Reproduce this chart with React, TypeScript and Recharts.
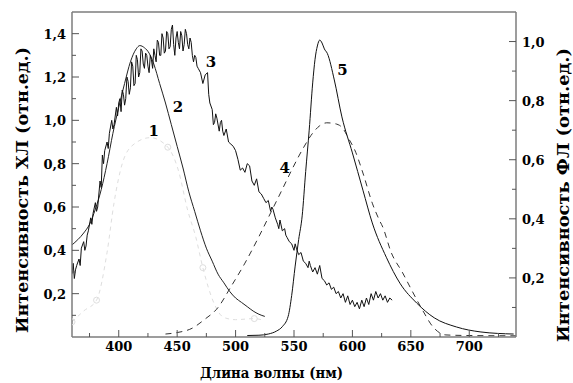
import React from 'react';
import { LineChart, Line, XAxis, YAxis, ReferenceLine, ReferenceDot, Label } from 'recharts';

// Curve 1: CL reference (light dotted with circles), left axis
const curve1: [number, number][] = [
  [360, 0.07], [370, 0.12], [381, 0.17], [390, 0.39], [396, 0.62], [403, 0.8], [413, 0.89],
  [427, 0.92], [442, 0.876], [451, 0.77], [459, 0.585], [466, 0.46], [472, 0.32], [482, 0.15],
  [490, 0.09], [500, 0.08], [516, 0.085], [522, 0.08],
];
const curve1Markers = [361, 381, 442, 472, 516];

// Curve 2: smooth CL fit, left axis
const curve2: [number, number][] = [
  [360, 0.425], [370, 0.48], [375, 0.52], [380, 0.59], [385, 0.68], [390, 0.8], [395, 0.94],
  [400, 1.06], [405, 1.17], [410, 1.27], [415, 1.33], [418, 1.345], [422, 1.335], [426, 1.31],
  [430, 1.26], [435, 1.17], [440, 1.08], [445, 0.98], [450, 0.88], [455, 0.78], [460, 0.67],
  [465, 0.58], [470, 0.49], [475, 0.41], [480, 0.35], [485, 0.29], [490, 0.25], [495, 0.21],
  [500, 0.18], [505, 0.16], [510, 0.14], [515, 0.12], [520, 0.105], [525, 0.095],
];

// Curve 3: measured (noisy) CL spectrum, left axis
const curve3: [number, number][] = [
  [360, 0.29], [361, 0.34], [362, 0.27], [363, 0.31], [364, 0.33], [366, 0.36], [367, 0.33],
  [368, 0.41], [370, 0.44], [371, 0.4], [372, 0.42], [373, 0.47], [374, 0.49], [376, 0.55],
  [377, 0.52], [378, 0.57], [380, 0.62], [381, 0.58], [382, 0.6], [384, 0.72], [385, 0.69],
  [386, 0.84], [387, 0.8], [388, 0.86], [390, 0.9], [391, 0.87], [392, 0.94], [394, 1.0],
  [395, 0.96], [396, 0.98], [398, 1.06], [399, 1.02], [400, 1.08], [401, 1.1], [402, 1.04],
  [403, 1.14], [404, 1.12], [405, 1.07], [406, 1.1], [407, 1.2], [408, 1.18], [409, 1.12],
  [410, 1.15], [411, 1.27], [412, 1.25], [413, 1.16], [414, 1.17], [415, 1.3], [416, 1.28],
  [417, 1.2], [418, 1.22], [419, 1.33], [420, 1.32], [421, 1.26], [422, 1.24], [423, 1.31],
  [424, 1.3], [425, 1.25], [426, 1.22], [427, 1.3], [428, 1.28], [429, 1.24], [430, 1.33],
  [431, 1.3], [432, 1.27], [433, 1.37], [434, 1.36], [435, 1.3], [436, 1.3], [437, 1.4],
  [438, 1.38], [439, 1.31], [440, 1.32], [441, 1.41], [442, 1.4], [443, 1.33], [444, 1.34],
  [445, 1.42], [446, 1.44], [447, 1.35], [448, 1.3], [449, 1.38], [450, 1.41], [451, 1.36],
  [452, 1.33], [453, 1.41], [454, 1.39], [455, 1.32], [456, 1.35], [457, 1.42], [458, 1.4],
  [459, 1.35], [460, 1.33], [461, 1.38], [462, 1.36], [463, 1.3], [464, 1.27], [465, 1.3],
  [466, 1.29], [467, 1.25], [468, 1.24], [470, 1.22], [472, 1.17], [474, 1.21], [476, 1.22],
  [477, 1.12], [478, 1.08], [480, 1.05], [481, 0.98], [482, 0.99], [483, 1.03], [484, 1.01],
  [486, 0.95], [487, 0.99], [488, 1.0], [489, 0.95], [490, 0.93], [492, 0.96], [494, 0.9],
  [496, 0.89], [498, 0.88], [500, 0.86], [502, 0.82], [504, 0.77], [506, 0.78], [508, 0.76],
  [510, 0.8], [512, 0.79], [514, 0.72], [516, 0.7], [518, 0.73], [520, 0.67], [522, 0.66],
  [524, 0.64], [526, 0.62], [528, 0.63], [530, 0.58], [531, 0.6], [532, 0.59], [534, 0.55],
  [536, 0.52], [537, 0.5], [538, 0.54], [540, 0.49], [542, 0.5], [543, 0.47], [544, 0.46],
  [546, 0.44], [548, 0.43], [550, 0.4], [551, 0.43], [552, 0.41], [554, 0.38], [556, 0.39],
  [558, 0.35], [560, 0.34], [562, 0.32], [563, 0.35], [564, 0.33], [566, 0.3], [568, 0.32],
  [570, 0.29], [572, 0.33], [574, 0.27], [576, 0.26], [578, 0.24], [580, 0.25], [582, 0.22],
  [584, 0.23], [586, 0.2], [588, 0.21], [590, 0.18], [592, 0.2], [594, 0.16], [596, 0.19],
  [598, 0.15], [600, 0.17], [602, 0.14], [604, 0.16], [606, 0.13], [608, 0.17], [610, 0.14],
  [612, 0.18], [614, 0.15], [616, 0.2], [618, 0.17], [620, 0.21], [622, 0.18], [624, 0.2],
  [626, 0.17], [628, 0.19], [630, 0.16], [632, 0.18], [634, 0.17],
];

// Curve 4: PL (dashed), right axis
const curve4: [number, number][] = [
  [440, 0.01], [450, 0.015], [463, 0.03], [473, 0.058], [485, 0.1], [496, 0.17], [508, 0.25],
  [520, 0.34], [530, 0.42], [540, 0.5], [548, 0.565], [558, 0.64], [566, 0.69], [572, 0.715],
  [578, 0.725], [585, 0.722], [591, 0.71], [597, 0.67], [602, 0.633], [609, 0.555], [617, 0.453],
  [623, 0.396], [626, 0.372], [633, 0.288], [643, 0.217], [652, 0.149], [660, 0.091],
  [669, 0.034], [680, 0.007], [700, 0.005], [740, 0.004],
];

// Curve 5: PL (solid), right axis
const curve5: [number, number][] = [
  [510, 0.005], [520, 0.006], [528, 0.01], [535, 0.02], [540, 0.035], [545, 0.07], [548, 0.14],
  [551, 0.24], [554, 0.33], [557, 0.41], [560, 0.56], [563, 0.7], [566, 0.86], [568, 0.94],
  [570, 0.985], [572, 1.005], [574, 0.995], [576, 0.975], [578.5, 0.96], [584.5, 0.87],
  [591, 0.745], [600, 0.623], [609, 0.497], [617, 0.386], [629, 0.27], [641, 0.18],
  [655, 0.115], [670, 0.065], [689, 0.034], [710, 0.017], [738, 0.01],
];

const xTicks = [375, 400, 425, 450, 475, 500, 525, 550, 575, 600, 625, 650, 675, 700, 725];
const leftTicks = [0.1, 0.2, 0.3, 0.4, 0.5, 0.6, 0.7, 0.8, 0.9, 1.0, 1.1, 1.2, 1.3, 1.4];
const rightTicks = [0.1, 0.2, 0.3, 0.4, 0.5, 0.6, 0.7, 0.8, 0.9, 1.0];

const curveLabels = [
  { text: '1', x: 430, y: 0.95, axis: 'left' },
  { text: '2', x: 450.7, y: 1.06, axis: 'left' },
  { text: '3', x: 479, y: 1.27, axis: 'left' },
  { text: '4', x: 542, y: 0.572, axis: 'right' },
  { text: '5', x: 591.4, y: 0.904, axis: 'right' },
];

const xTitle = 'Длина волны (нм)';
const leftTitle = 'Интенсивность ХЛ (отн.ед.)';
const rightTitle = 'Интенсивность ФЛ (отн.ед.)';

const toRows = (arr: [number, number][]) => arr.map(([x, y]) => ({ x, y }));

const FONT = '"DejaVu Serif", "Liberation Serif", serif';
const txt: React.CSSProperties = { fontFamily: FONT, fontWeight: 700 };
const FRAME = '#7d7d7d';
const TICK = '#555';

const isMajor = (v: number) => Math.round(v * 10) % 2 === 0;
const fmt = (v: number) => v.toFixed(1).replace('.', ',');

const XTick = (props: any) => {
  const { x, y, payload } = props;
  const v = payload.value;
  const major = v % 50 === 0;
  return (
    <g>
      <line x1={x} x2={x} y1={y} y2={y - (major ? 7 : 4)} stroke={TICK} strokeWidth={1} />
      {major && (
        <text x={x} y={y + 14} textAnchor="middle" style={{ ...txt, fontSize: 13 }} fill="#000">
          {v}
        </text>
      )}
    </g>
  );
};

const LeftTick = (props: any) => {
  const { x, y, payload } = props;
  const v = payload.value;
  const major = isMajor(v);
  return (
    <g>
      <line x1={x} x2={x + (major ? 7 : 4)} y1={y} y2={y} stroke={TICK} strokeWidth={1} />
      {major && (
        <text x={x - 6} y={y + 5} textAnchor="end" style={{ ...txt, fontSize: 13 }} fill="#000">
          {fmt(v)}
        </text>
      )}
    </g>
  );
};

const RightTick = (props: any) => {
  const { x, y, payload } = props;
  const v = payload.value;
  const major = isMajor(v);
  return (
    <g>
      <line x1={x} x2={x - (major ? 7 : 4)} y1={y} y2={y} stroke={TICK} strokeWidth={1} />
      {major && (
        <text x={x + 6} y={y + 5} textAnchor="start" style={{ ...txt, fontSize: 13 }} fill="#000">
          {fmt(v)}
        </text>
      )}
    </g>
  );
};

const Curve1Dot = (props: any) => {
  const { cx, cy, payload, index } = props;
  if (!curve1Markers.some((m) => Math.abs(m - payload.x) < 1.5)) return <g key={`d${index}`} />;
  return <circle key={`d${index}`} cx={cx} cy={cy} r={3} fill="none" stroke="#dedede" strokeWidth={1} />;
};

const NumLabel = (props: any) => {
  const { viewBox, value } = props;
  const cx = viewBox.x + (viewBox.width || 0) / 2;
  const cy = viewBox.y + (viewBox.height || 0) / 2;
  return (
    <text x={cx} y={cy} textAnchor="middle" dominantBaseline="central" style={{ ...txt, fontSize: 15 }} fill="#000">
      {value}
    </text>
  );
};

export default function App() {
  return (
    <div style={{ position: 'absolute', left: 0, top: 0, background: '#fff' }}>
      <LineChart width={573} height={383} margin={{ top: 12, right: 0, bottom: 0, left: 0 }}>
        <XAxis
          xAxisId="x"
          dataKey="x"
          type="number"
          domain={[360, 740]}
          allowDataOverflow
          ticks={xTicks}
          interval={0}
          height={46}
          tickSize={0}
          tickMargin={0}
          tickLine={false}
          tick={XTick}
          axisLine={{ stroke: FRAME, strokeWidth: 1.5 }}
        >
          <Label
            content={(p: any) => {
              const vb = p.viewBox;
              return (
                <text
                  x={vb.x + vb.width / 2 - 22.5}
                  y={378}
                  textAnchor="middle"
                  style={{ ...txt, fontSize: 15 }}
                  textLength={143}
                  lengthAdjust="spacingAndGlyphs"
                  fill="#000"
                >
                  {xTitle}
                </text>
              );
            }}
          />
        </XAxis>
        <YAxis
          yAxisId="left"
          type="number"
          domain={[0, 1.5]}
          allowDataOverflow
          ticks={leftTicks}
          interval={0}
          width={72}
          tickSize={0}
          tickMargin={0}
          tickLine={false}
          tick={LeftTick}
          axisLine={{ stroke: FRAME, strokeWidth: 1.5 }}
        >
          <Label
            content={(p: any) => {
              const vb = p.viewBox;
              const cx = vb.x + 22;
              const cy = vb.y + vb.height / 2 + 15.5;
              return (
                <text
                  x={cx}
                  y={cy}
                  transform={`rotate(-90 ${cx} ${cy})`}
                  textAnchor="middle"
                  dominantBaseline="central"
                  style={{ ...txt, fontSize: 16 }}
                  textLength={286}
                  lengthAdjust="spacingAndGlyphs"
                  fill="#000"
                >
                  {leftTitle}
                </text>
              );
            }}
          />
        </YAxis>
        <YAxis
          yAxisId="right"
          orientation="right"
          type="number"
          domain={[0, 1.1]}
          allowDataOverflow
          ticks={rightTicks}
          interval={0}
          width={57}
          tickSize={0}
          tickMargin={0}
          tickLine={false}
          tick={RightTick}
          axisLine={{ stroke: FRAME, strokeWidth: 1.5 }}
        >
          <Label
            content={(p: any) => {
              const vb = p.viewBox;
              const cx = vb.x + 47;
              const cy = vb.y + vb.height / 2 + 20.5;
              return (
                <text
                  x={cx}
                  y={cy}
                  transform={`rotate(-90 ${cx} ${cy})`}
                  textAnchor="middle"
                  dominantBaseline="central"
                  style={{ ...txt, fontSize: 16 }}
                  textLength={294}
                  lengthAdjust="spacingAndGlyphs"
                  fill="#000"
                >
                  {rightTitle}
                </text>
              );
            }}
          />
        </YAxis>
        <ReferenceLine xAxisId="x" yAxisId="left" y={1.5} stroke={FRAME} strokeWidth={1.5} ifOverflow="visible" />

        <Line
          xAxisId="x"
          yAxisId="left"
          data={toRows(curve1)}
          dataKey="y"
          type="monotone"
          stroke="#dedede"
          strokeWidth={1}
          strokeDasharray="4 4"
          dot={Curve1Dot}
          activeDot={false}
          isAnimationActive={false}
        />
        <Line
          xAxisId="x"
          yAxisId="left"
          data={toRows(curve2)}
          dataKey="y"
          type="monotone"
          stroke="#222"
          strokeWidth={1}
          dot={false}
          activeDot={false}
          isAnimationActive={false}
        />
        <Line
          xAxisId="x"
          yAxisId="left"
          data={toRows(curve3)}
          dataKey="y"
          type="linear"
          stroke="#111"
          strokeWidth={1}
          dot={false}
          activeDot={false}
          isAnimationActive={false}
        />
        <Line
          xAxisId="x"
          yAxisId="right"
          data={toRows(curve4)}
          dataKey="y"
          type="monotone"
          stroke="#333"
          strokeWidth={1}
          strokeDasharray="6 5"
          dot={false}
          activeDot={false}
          isAnimationActive={false}
        />
        <Line
          xAxisId="x"
          yAxisId="right"
          data={toRows(curve5)}
          dataKey="y"
          type="monotone"
          stroke="#111"
          strokeWidth={1}
          dot={false}
          activeDot={false}
          isAnimationActive={false}
        />

        {curveLabels.map((c) => (
          <ReferenceDot
            key={c.text}
            xAxisId="x"
            yAxisId={c.axis}
            x={c.x}
            y={c.y}
            r={0}
            fill="none"
            stroke="none"
            label={<NumLabel value={c.text} />}
          />
        ))}
      </LineChart>
    </div>
  );
}
